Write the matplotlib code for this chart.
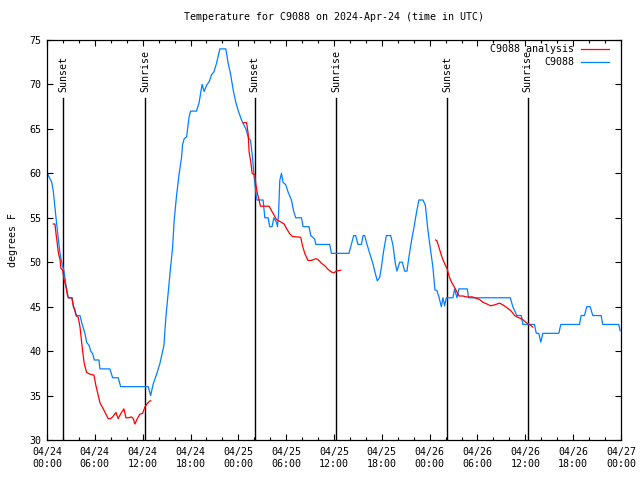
from datetime import datetime, timedelta

import matplotlib
matplotlib.use("Agg")
import matplotlib.pyplot as plt
from matplotlib.ticker import MultipleLocator, FuncFormatter

plt.rcParams['font.family'] = ['DejaVu Sans Mono']

# hours since 2024-04-24 00:00 UTC
obs_hours = [0.04, 0.59, 0.79, 1.13, 1.42, 1.63, 1.84, 2.13, 2.38, 2.67, 3.17, 3.30,
             3.72, 4.14, 4.35, 4.76, 4.97, 5.30, 5.48, 5.73, 5.93, 6.52, 6.64, 7.89,
             8.23, 8.93, 9.24, 12.69, 13.0, 13.32, 13.75, 14.16, 14.66, 14.91, 15.20,
             15.50, 15.75, 15.95, 16.25, 16.58, 16.88, 17.0, 17.21, 17.51, 17.63,
             17.83, 18.01, 18.76, 19.09, 19.30, 19.46, 19.71, 20.01, 20.34, 20.64,
             20.93, 21.27, 21.68, 22.43, 22.72, 23.02, 23.35, 23.68, 23.97, 24.40,
             24.94, 25.23, 25.53, 25.78, 25.98, 26.28, 26.35, 27.11, 27.32, 27.73,
             27.94, 28.23, 28.45, 28.78, 28.91, 29.04, 29.20, 29.41, 29.61, 29.95,
             30.24, 30.66, 30.95, 31.20, 31.92, 32.12, 32.87, 33.08, 33.58, 33.71,
             35.46, 35.68, 37.88, 38.18, 38.47, 38.72, 39.01, 39.44, 39.64, 39.85,
             40.14, 40.48, 40.89, 41.19, 41.44, 41.73, 41.94, 42.23, 42.57, 43.11,
             43.40, 43.70, 43.90, 44.24, 44.57, 44.86, 45.15, 45.40, 45.70, 45.99,
             46.33, 46.65, 47.16, 47.46, 47.78, 48.12, 48.41, 48.66, 48.91, 49.16,
             49.46, 49.66, 49.87, 50.09, 50.92, 51.13, 51.42, 51.67, 52.72, 52.88,
             58.11, 58.43, 58.93, 59.49, 59.69, 61.15, 61.37, 61.69, 61.94, 62.19,
             64.20, 64.45, 66.79, 67.0, 67.42, 67.71, 68.13, 68.46, 69.51, 69.71,
             71.72, 71.89]
obs_temp = [60, 59, 58, 55, 52.6, 51, 50, 49, 47.4, 46, 46, 45,
            44, 44, 43.2, 42, 41, 40.6, 40, 39.7, 39, 39, 38, 38,
            37, 37, 36, 36, 35, 36.3, 37.4, 38.6, 40.6, 43.8, 46.6,
            49.4, 51.6, 54.7, 57.5, 60, 61.8, 63.2, 63.9, 64.1, 65,
            66.4, 67, 67, 68, 69.2, 70, 69.2, 69.9, 70.3, 71.1,
            71.4, 72.4, 74, 74, 72.4, 71.2, 69.4, 68, 67.1, 66,
            65, 64.1, 63.7, 61.8, 59.6, 57.2, 57, 57, 55, 55,
            54, 54, 55, 54.5, 54, 55.3, 59.2, 60, 59, 58.7,
            57.9, 57, 55.7, 55, 55, 54, 54, 53, 52.6, 52,
            52, 51, 51, 52, 53, 53, 52, 52, 53, 53,
            52, 51, 49.8, 48.7, 47.9, 48.3, 49.4, 51.3, 53, 53,
            51.9, 49.8, 49, 50, 50, 49, 49, 50.6, 52.3, 53.7,
            55.5, 57, 57, 56.4, 53.6, 51.3, 49.4, 46.9, 46.8, 46.1,
            45, 46, 45.1, 46, 46, 47, 46, 47, 47, 46,
            46, 45, 44, 44, 43, 43, 42, 42, 41, 42,
            42, 43, 43, 44, 44, 45, 45, 44, 44, 43,
            43, 42.3]

# analysis series, three separate runs
ana1_hours = [0.79, 1.0, 1.13, 1.29, 1.42, 1.63, 1.75, 1.97, 2.13, 2.38, 2.54, 2.67,
              3.10, 3.30, 3.51, 3.63, 3.92, 4.14, 4.26, 4.47, 4.67, 4.97, 5.39, 5.89,
              6.14, 6.43, 6.64, 7.06, 7.39, 7.68, 7.98, 8.23, 8.65, 8.93, 9.27, 9.65,
              9.90, 10.19, 10.61, 10.81, 11.03, 11.32, 11.65, 11.99, 12.28, 12.57,
              12.91, 13.03]
ana1_temp = [54.3, 54.3, 53.2, 52.1, 51.1, 50.3, 49.3, 49.1, 48.1, 47.2, 46.4, 46,
             46, 45.1, 44.6, 44, 43.8, 42.7, 41.7, 40, 38.6, 37.6, 37.4, 37.3,
             36.1, 35, 34.2, 33.5, 32.9, 32.4, 32.4, 32.6, 33.1, 32.4, 33, 33.5,
             32.5, 32.5, 32.6, 32.4, 31.8, 32.4, 32.9, 33, 33.7, 34.1,
             34.4, 34.4]
ana2_hours = [24.60, 25.03, 25.23, 25.35, 25.56, 25.73, 26.07, 26.19, 26.40, 26.60,
              26.78, 27.86, 28.16, 28.48, 28.78, 29.20, 29.74, 30.04, 30.45, 30.79,
              31.83, 32.04, 32.33, 32.74, 33.17, 33.71, 34.0, 34.42, 34.84, 35.25,
              35.68, 35.96, 36.30, 36.84]
ana2_temp = [65.7, 65.7, 64.5, 62.4, 61.3, 60, 59.8, 58.8, 57.7, 57,
             56.3, 56.3, 55.8, 55.3, 54.8, 54.6, 54.3, 53.8, 53.2, 52.9,
             52.8, 51.9, 51, 50.2, 50.2, 50.4, 50.3, 49.9, 49.6, 49.2,
             48.9, 48.8, 49, 49.1]
ana3_hours = [48.75, 48.91, 49.16, 49.46, 49.75, 50.0, 50.21, 50.41, 50.71, 51.04,
              51.34, 51.67, 52.17, 52.59, 53.35, 54.26, 54.67, 55.18, 55.64, 56.14,
              56.77, 57.18, 57.68, 58.23, 58.65, 59.06, 59.61, 60.11, 60.53, 60.94]
ana3_temp = [52.5, 52.4, 51.7, 50.8, 50.1, 49.6, 49.2, 48.5, 47.8, 47.3,
             46.8, 46.2, 46.2, 46.1, 46.1, 45.8, 45.5, 45.3, 45.1, 45.2,
             45.4, 45.2, 44.9, 44.5, 44, 43.8, 43.6, 43.2, 43, 42.7]

sun_hours = [2.04, 12.3, 26.07, 36.25, 50.2, 60.3]
sun_labels = ['Sunset', 'Sunrise', 'Sunset', 'Sunrise', 'Sunset', 'Sunrise']

start = datetime(2024, 4, 24)
red = '#ff0000'
blue = '#0080ff'
fs = 7.2

fig = plt.figure(figsize=(6.4, 4.8), dpi=100)
ax = fig.add_axes([47 / 640, 40 / 480, 574 / 640, 400 / 480])

for h, lab in zip(sun_hours, sun_labels):
    ax.plot([h, h], [30, 68.5], color='black', lw=1.0)
    ax.text(h, 69.2, lab, rotation=90, ha='center', va='bottom', fontsize=fs)

ax.plot(obs_hours, obs_temp, color=blue, lw=0.9)
for hh, tt in [(ana1_hours, ana1_temp), (ana2_hours, ana2_temp), (ana3_hours, ana3_temp)]:
    ax.plot(hh, tt, color=red, lw=0.9)

ax.set_xlim(0, 72)
ax.set_ylim(30, 75)
ax.xaxis.set_major_locator(MultipleLocator(6))
ax.xaxis.set_minor_locator(MultipleLocator(2))
ax.yaxis.set_major_locator(MultipleLocator(5))
ax.xaxis.set_major_formatter(FuncFormatter(
    lambda v, p: (start + timedelta(hours=v)).strftime('%m/%d\n%H:%M')))
ax.tick_params(which='both', direction='in', top=True, right=True, labelsize=fs)
ax.tick_params(which='major', length=4, width=0.8)
ax.tick_params(which='minor', length=2.5, width=0.8)
ax.tick_params(axis='x', pad=5)
ax.tick_params(axis='y', pad=4)
for s in ax.spines.values():
    s.set_linewidth(0.9)

ax.set_ylabel('degrees F', fontsize=fs, labelpad=8)
fig.text(334 / 640, 1 - 17 / 480, 'Temperature for C9088 on 2024-Apr-24 (time in UTC)',
         ha='center', va='center', fontsize=fs)

# legend drawn gnuplot-style: text right aligned, sample to the right
for i, (lab, c) in enumerate([('C9088 analysis', red), ('C9088', blue)]):
    y = 0.9775 - i * 0.0325
    ax.text(0.918, y, lab, transform=ax.transAxes, ha='right', va='center', fontsize=fs)
    ax.plot([0.930, 0.979], [y, y], transform=ax.transAxes, color=c, lw=0.9)

fig.savefig('out.png', dpi=100)
